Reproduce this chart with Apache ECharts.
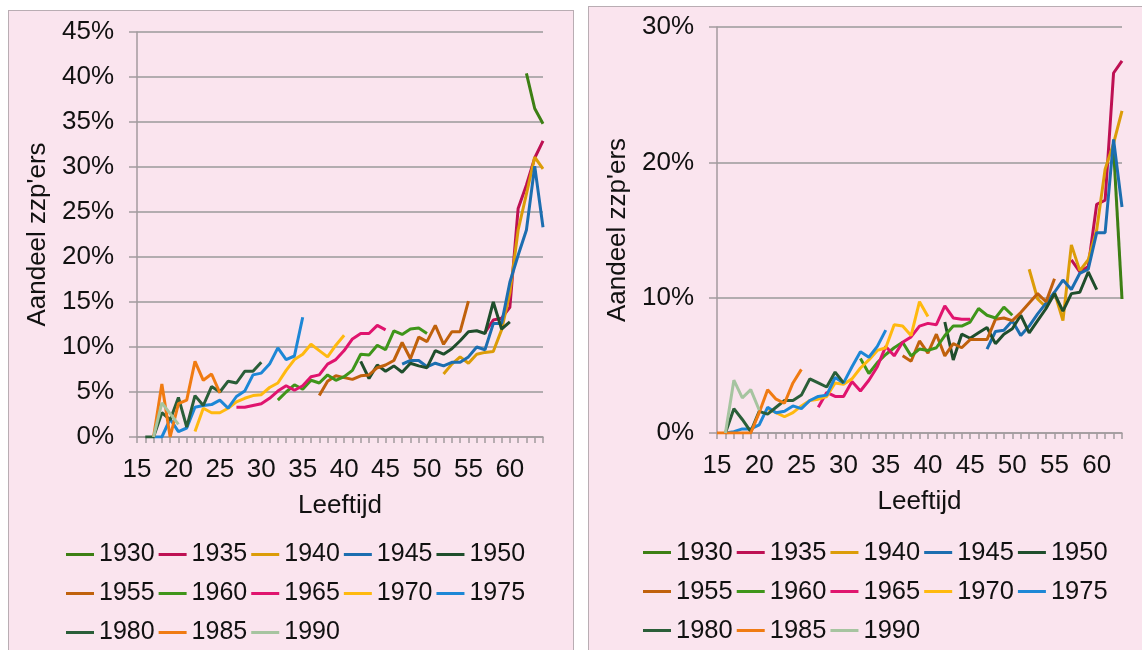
<!DOCTYPE html>
<html>
<head>
<meta charset="utf-8">
<script src="https://cdn.jsdelivr.net/npm/echarts@6/dist/echarts.min.js"></script>
<style>
  body { margin: 0; width: 1142px; height: 650px; overflow: hidden; position: relative; background: #fff; }
  .panel { position: absolute; background: #fae4ee; border: 1px solid #b9adb3; }
  #leftPanel { left: 8px; top: 10px; width: 564px; height: 660px; }
  #rightPanel { left: 588px; top: 6px; width: 570px; height: 660px; }
  .chart { width: 100%; height: 100%; }
</style>
</head>
<body>
<div id="leftPanel" class="panel"><div id="leftChart" class="chart"></div></div>
<div id="rightPanel" class="panel"><div id="rightChart" class="chart"></div></div>
<script>
// cohorts (geboortejaar) and colours
const cohorts = ['1930', '1935', '1940', '1945', '1950', '1955', '1960', '1965', '1970', '1975', '1980', '1985', '1990']
const colors = ['#3d7f14', '#be1053', '#dc9c08', '#1c6eb0', '#1f4e2c', '#c0610c', '#3f951a',
  '#e0146e', '#ffb90f', '#1d87d6', '#2a5e38', '#f07b12', '#a6c4a0']

// left chart: ages 15..64, values in %
const leftAges = []
for (let a = 15; a <= 64; a++) leftAges.push(String(a))
const leftFirstAge = [62, 57, 52, 47, 42, 37, 32, 27, 22, 17, 16, 17, 17]
const left1930 = [40.4, 36.5, 34.8]
const left1935 = [11.6, 13.0, 13.2, 14.4, 25.4, 28.0, 31.0, 32.9]
const left1940 = [7.0, 8.1, 8.9, 8.2, 9.2, 9.4, 9.5, 11.9, 16.0, 23.0, 27.0, 31.1, 29.8]
const left1945 = [8.1, 8.5, 8.5, 7.8, 8.2, 7.9, 8.3, 8.3, 8.9, 10.0, 9.7, 12.6, 12.6, 17.2, 20.2, 23.0, 30.1, 23.3]
const left1950 = [8.4, 6.5, 8.0, 7.3, 7.9, 7.2, 8.2, 7.9, 7.7, 9.6, 9.2, 9.8, 10.7, 11.7, 11.8, 11.5, 15.0, 12.0, 12.8]
const left1955 = [4.6, 6.2, 6.8, 6.6, 6.4, 6.8, 6.9, 7.7, 8.0, 8.5, 10.5, 8.7, 11.1, 10.6, 12.4, 10.3, 11.7, 11.7, 15.1]
const left1960 = [4.1, 5.0, 5.8, 5.3, 6.3, 6.0, 6.9, 6.3, 6.7, 7.4, 9.2, 9.1, 10.2, 9.7, 11.8, 11.4, 12.0, 12.1, 11.5]
const left1965 = [3.3, 3.3, 3.5, 3.7, 4.3, 5.1, 5.7, 5.2, 5.7, 6.7, 6.9, 8.1, 8.6, 9.6, 10.9, 11.5, 11.5, 12.4, 11.9]
const left1970 = [0.6, 3.2, 2.7, 2.7, 3.2, 3.9, 4.3, 4.6, 4.7, 5.5, 6.0, 7.4, 8.6, 9.2, 10.3, 9.6, 8.9, 10.2, 11.3]
const left1975 = [0, 0, 2.0, 0.6, 1.0, 3.3, 3.5, 3.6, 4.1, 3.2, 4.5, 5.1, 6.9, 7.1, 8.1, 9.9, 8.6, 9.0, 13.3]
const left1980 = [0, 0, 2.7, 1.9, 4.4, 1.1, 4.6, 3.5, 5.6, 5.0, 6.2, 6.0, 7.3, 7.3, 8.3]
const left1985 = [0, 5.9, 0, 3.7, 4.1, 8.4, 6.3, 7.0, 4.9]
const left1990 = [0, 3.8, 2.6, 1.4]

// right chart: ages 15..63, values in %
const rightAges = []
for (let a = 15; a <= 63; a++) rightAges.push(String(a))
const rightFirstAge = [62, 57, 52, 47, 42, 37, 32, 27, 21, 16, 16, 15, 16]
const right1930 = [21.0, 9.9]
const right1935 = [12.8, 11.9, 12.3, 16.9, 17.2, 26.6, 27.5]
const right1940 = [12.1, 9.9, 9.3, 10.4, 8.3, 13.9, 12.0, 12.8, 15.0, 19.5, 21.4, 23.8]
const right1945 = [6.2, 7.5, 7.6, 8.3, 7.2, 7.9, 8.8, 9.6, 10.4, 11.3, 10.6, 11.8, 12.1, 14.8, 14.8, 21.7, 16.7]
const right1950 = [8.2, 5.4, 7.3, 7.0, 7.4, 7.8, 6.6, 7.3, 7.7, 8.7, 7.4, 8.3, 9.2, 10.3, 9.0, 10.3, 10.4, 11.9, 10.6]
const right1955 = [5.7, 5.3, 6.8, 5.9, 7.3, 5.7, 6.6, 6.3, 6.9, 6.9, 6.9, 8.4, 8.5, 8.3, 8.9, 9.6, 10.3, 9.7, 11.4]
const right1960 = [5.5, 4.4, 5.2, 5.8, 6.3, 6.7, 5.7, 6.2, 6.1, 6.3, 7.2, 7.9, 7.9, 8.2, 9.2, 8.7, 8.5, 9.3, 8.7]
const right1965 = [1.9, 3.0, 2.7, 2.7, 3.8, 3.1, 3.9, 4.9, 6.4, 5.7, 6.7, 7.1, 7.9, 8.1, 8.0, 9.4, 8.5, 8.4, 8.4]
const right1970 = [1.8, 1.5, 1.2, 1.5, 2.0, 2.4, 2.5, 2.7, 3.7, 3.6, 4.0, 4.8, 5.4, 6.1, 6.3, 8.0, 7.9, 7.2, 9.7, 8.6]
const right1975 = [0, 0.1, 0.3, 0.3, 0.6, 1.9, 1.5, 1.6, 2.0, 1.8, 2.4, 2.7, 2.8, 4.1, 3.7, 4.9, 6.0, 5.6, 6.4, 7.6]
const right1980 = [0, 1.8, 1.0, 0.1, 1.6, 1.4, 1.9, 2.4, 2.4, 2.8, 4.0, 3.7, 3.4, 4.5, 3.7]
const right1985 = [0, 0, 0, 0, 0, 1.5, 3.2, 2.5, 2.2, 3.7, 4.7]
const right1990 = [0, 3.9, 2.6, 3.2, 1.7]

const leftValues = [left1930, left1935, left1940, left1945, left1950, left1955, left1960,
  left1965, left1970, left1975, left1980, left1985, left1990]
const rightValues = [right1930, right1935, right1940, right1945, right1950, right1955, right1960,
  right1965, right1970, right1975, right1980, right1985, right1990]

const font = "'Liberation Sans', Arial, sans-serif"
const gray = '#a39a9e'

// zet de reeksen op de juiste leeftijden, rest blijft leeg
const buildSeries = (ages, firstAges, values) => cohorts.map((name, i) => {
  const data = ages.map(() => null)
  const start = ages.indexOf(String(firstAges[i]))
  values[i].forEach((v, k) => { data[start + k] = v })
  return {
    name,
    type: 'line',
    data,
    symbol: 'none',
    connectNulls: false,
    lineStyle: { width: 3, color: colors[i] },
    itemStyle: { color: colors[i] },
    z: 2 + i
  }
})

const initChart = (el, cfg) => {
  const chart = echarts.init(el)
  chart.setOption({
    animation: false,
    textStyle: { fontFamily: font },
    grid: cfg.grid,
    legend: {
      data: cohorts,
      left: cfg.legendLeft,
      top: cfg.legendTop,
      width: cfg.legendWidth,
      icon: 'rect',
      itemWidth: 28,
      itemHeight: 3,
      itemGap: 4,
      textStyle: { fontSize: cfg.legendFont, color: '#111', fontFamily: font, lineHeight: 35 }
    },
    xAxis: {
      type: 'category',
      data: cfg.ages,
      boundaryGap: false,
      name: 'Leeftijd',
      nameLocation: 'middle',
      nameGap: 56,
      nameTextStyle: { fontSize: 26, color: '#111', fontFamily: font },
      axisLine: { lineStyle: { color: gray, width: 1.5 } },
      axisTick: { interval: 0, length: 6, lineStyle: { color: gray, width: 1.5 } },
      axisLabel: { interval: 4, margin: 20, fontSize: 26, color: '#111', fontFamily: font },
      splitLine: { show: false }
    },
    yAxis: {
      type: 'value',
      min: 0,
      max: cfg.yMax,
      interval: cfg.yStep,
      name: "Aandeel zzp'ers",
      nameLocation: 'middle',
      nameGap: 80,
      nameTextStyle: { fontSize: 26, color: '#111', fontFamily: font },
      axisLine: { show: true, lineStyle: { color: gray, width: 1.5 } },
      axisTick: { show: true, length: 8, lineStyle: { color: gray, width: 1.5 } },
      axisLabel: { formatter: '{value}%', margin: 23, fontSize: 26, color: '#111', fontFamily: font },
      splitLine: { lineStyle: { color: '#9a9a9a', width: 1.5 } }
    },
    series: buildSeries(cfg.ages, cfg.firstAges, cfg.values)
  })
  return chart
}

initChart(document.getElementById('leftChart'), {
  ages: leftAges,
  firstAges: leftFirstAge,
  values: leftValues,
  yMax: 45,
  yStep: 5,
  grid: { left: 128, top: 21, width: 406, height: 405 },
  legendLeft: 52,
  legendTop: 521,
  legendWidth: 470,
  legendFont: 25
})

initChart(document.getElementById('rightChart'), {
  ages: rightAges,
  firstAges: rightFirstAge,
  values: rightValues,
  yMax: 30,
  yStep: 10,
  grid: { left: 128, top: 20, width: 405, height: 406 },
  legendLeft: 49,
  legendTop: 523,
  legendWidth: 475,
  legendFont: 25.5
})
</script>
</body>
</html>
